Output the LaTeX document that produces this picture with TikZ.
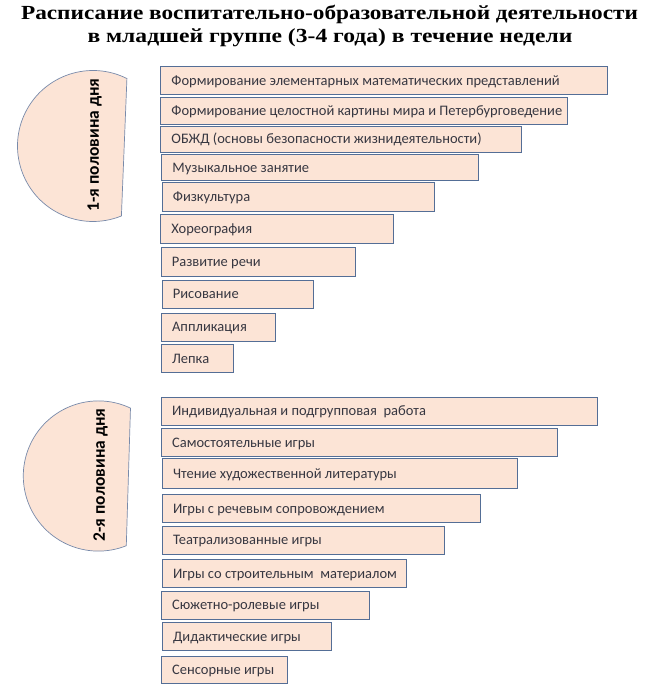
\documentclass[tikz,border=0pt]{standalone}
\usepackage{fontspec}
\setmainfont{Liberation Serif}
\newfontfamily\boxfont{Carlito}
\definecolor{peach}{RGB}{252,228,214}
\definecolor{boxline}{RGB}{84,110,150}
\definecolor{semiline}{RGB}{120,138,170}
\definecolor{boxtext}{RGB}{55,55,65}
\tikzset{
  itembox/.style={draw=boxline, fill=peach, line width=0.8pt, anchor=north west,
    inner xsep=11pt, inner ysep=0pt, font=\boxfont\fontsize{14.5}{16}\selectfont,
    text=boxtext},
  semishape/.style={draw=semiline, fill=peach, line width=0.7pt},
  semilabel/.style={rotate=90, font=\boxfont\bfseries\fontsize{17.5}{19}\selectfont, text=black},
  titletext/.style={font=\bfseries\fontsize{20}{23}\selectfont}
}
\newcommand{\bx}[6]{%
  \pgfmathsetmacro{\bw}{#4-#2}\pgfmathsetmacro{\bh}{#5-#3}\pgfmathsetmacro{\tw}{#4-#2-22}%
  \node[itembox, minimum width=\bw pt, minimum height=\bh pt] (#1) at (#2,-#3)
    {\raisebox{-1.8pt}{\makebox[\tw pt][l]{\vphantom{Йу}#6}}};}
\begin{document}
\begin{tikzpicture}[x=1pt,y=1pt]
\useasboundingbox (0,0) rectangle (650,-693);
\node[titletext, anchor=base] (title1) at (329.5,-19.5) {\scalebox{1.163}[1]{Расписание воспитательно-образовательной деятельности}};
\node[titletext, anchor=base] (title2) at (330,-42.5) {\scalebox{1.18}[1]{в младшей группе (3-4 года) в течение недели}};
% half-day shapes
\draw[semishape] (93,-146) ++(63.3:75.5pt) arc[start angle=63.3, end angle=292.1, radius=75.5pt] -- cycle;
\node[semilabel] (half1) at (94.5,-145) {1-я половина дня};
\draw[semishape] (98.4,-476) ++(64.7:75.1pt) arc[start angle=64.7, end angle=291.8, radius=75.1pt] -- cycle;
\node[semilabel] (half2) at (100.5,-475) {2-я половина дня};
% first half
\bx{a1}{160}{66}{606.5}{94}{Формирование элементарных математических представлений}
\bx{a2}{160}{97}{566.5}{123.5}{Формирование целостной картины мира и Петербурговедение}
\bx{a3}{160}{126}{520.5}{151.5}{ОБЖД (основы безопасности жизнидеятельности)}
\bx{a4}{161}{154}{478}{180}{Музыкальное занятие}
\bx{a5}{161.5}{182.3}{434.3}{211}{Физкультура}
\bx{a6}{160}{214.3}{393.3}{242.7}{Хореография}
\bx{a7}{160.5}{247.3}{355}{275.7}{Развитие речи}
\bx{a8}{161.5}{280}{313.3}{307.7}{Рисование}
\bx{a9}{160.7}{312.7}{275.3}{341}{Аппликация}
\bx{a10}{160.7}{344.3}{233.3}{371.7}{Лепка}
% second half
\bx{b1}{160.7}{396.7}{596.7}{425}{Индивидуальная и подгрупповая\ \ работа}
\bx{b2}{160.7}{428}{557}{456}{Самостоятельные игры}
\bx{b3}{161.7}{458}{517}{488}{Чтение художественной литературы}
\bx{b4}{161.7}{494}{480}{522.3}{Игры с речевым сопровождением}
\bx{b5}{161.7}{525.7}{444.3}{554}{Театрализованные игры}
\bx{b6}{161.7}{559}{406}{587.3}{Игры со строительным\ \ материалом}
\bx{b7}{160.7}{590.7}{369}{619}{Сюжетно-ролевые игры}
\bx{b8}{161.7}{622}{331}{650}{Дидактические игры}
\bx{b9}{160.7}{655.7}{287}{683}{Сенсорные игры}
\end{tikzpicture}
\end{document}
